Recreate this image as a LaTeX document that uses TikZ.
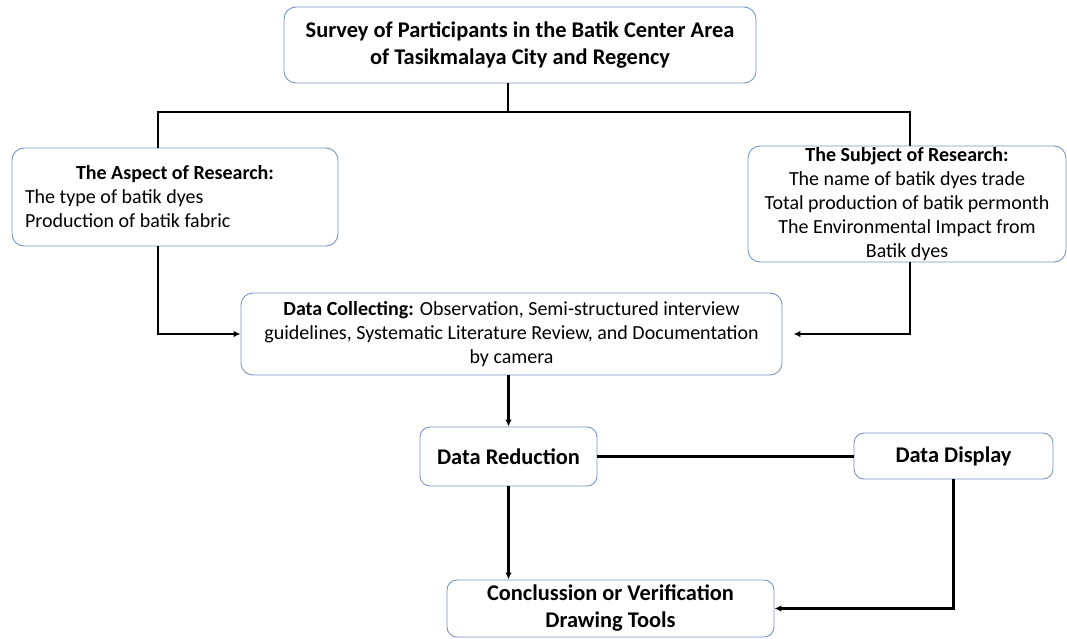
\documentclass[tikz,border=0pt]{standalone}
\usepackage{fontspec}
\setmainfont{Carlito}
\usetikzlibrary{arrows.meta}
\definecolor{boxblue}{RGB}{124,148,196}
\tikzset{
  box/.style={draw=boxblue, line width=0.9pt, rounded corners=12pt, fill=white,
    inner sep=0pt, align=center},
  conn/.style={line width=2.1pt, black},
  arr/.style={conn, -{Latex[length=7pt,width=6.5pt]}},
  regtext/.style={font=\fontsize{20}{24}\selectfont},
  bigtext/.style={font=\fontsize{22.4}{27}\selectfont\bfseries},
}
\begin{document}
\begin{tikzpicture}[x=1pt,y=-1pt]
\useasboundingbox (0,0) rectangle (1067,639);

\node[box, bigtext, minimum width=472pt, minimum height=76pt] (top) at (520,45)
  {Survey of Participants in the Batik Center Area\\of Tasikmalaya City and Regency};

\node[box, regtext, minimum width=326pt, minimum height=98pt, text width=300pt, align=flush left] (asp) at (175,197)
  {\hbox to 300pt{\hfil\bfseries The Aspect of Research:\hfil}\\The type of batik dyes\\Production of batik fabric};

\node[box, regtext, minimum width=318pt, minimum height=116pt] (subj) at (907,204)
  {\textbf{The Subject of Research:}\\The name of batik dyes trade\\Total production of batik permonth\\The Environmental Impact from\\Batik dyes};

\node[box, regtext, minimum width=541pt, minimum height=82pt] (dc) at (511.5,334)
  {\textbf{Data Collecting:} Observation, Semi-structured interview\\guidelines, Systematic Literature Review, and Documentation\\by camera};

\node[box, bigtext, rounded corners=10pt, minimum width=177pt, minimum height=59pt] (dr) at (508.5,456.5) {Data Reduction};

\node[box, bigtext, rounded corners=10pt, minimum width=199pt, minimum height=46pt] (dd) at (953.5,456) {Data Display};

\node[box, bigtext, rounded corners=10pt, minimum width=327pt, minimum height=57pt] (conc) at (610.5,608.5)
  {Conclussion or Verification\\Drawing Tools};

\coordinate (j) at (508,112);
\coordinate (jl) at (158,112);
\coordinate (jr) at (910,112);

\draw[conn] (j |- top.south) -- (j);
\draw[conn] (jl |- asp.north) -- (jl) -- (jr) -- (jr |- subj.north);
\draw[arr] (jl |- asp.south) -- (jl |- dc.west) -- (dc.west);
\draw[arr] (jr |- subj.south) -- (jr |- dc.east) -- ([xshift=11pt]dc.east);
\draw[arr] (dr.north |- dc.south) -- (dr.north);
\draw[conn] (dr.east) -- (dr.east -| dd.west);
\draw[arr] (dr.south) -- (dr.south |- conc.north);
\draw[arr] (dd.south) -- (dd.south |- conc.east) -- (conc.east);
\end{tikzpicture}
\end{document}
